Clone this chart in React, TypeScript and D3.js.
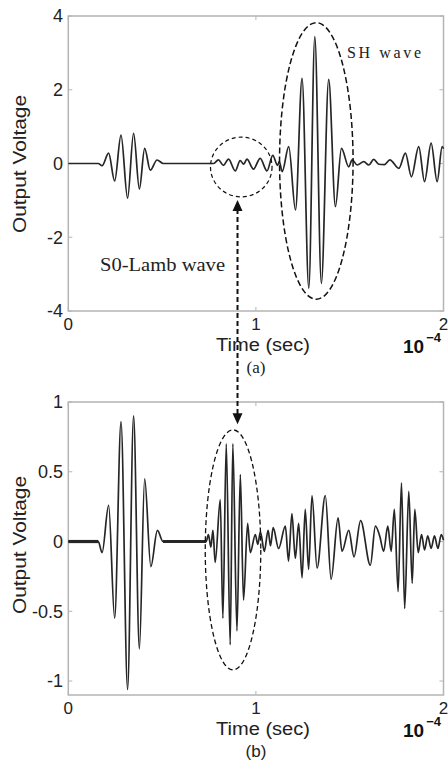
import React from "react";
import * as d3 from "d3";

const W = 448;
const H = 768;

// tick values
const xTicks = [0, 1, 2];
const topYTicks = [-4, -2, 0, 2, 4];
const bottomYTicks = [-1, -0.5, 0, 0.5, 1];

// (a) extrema, time in 1e-4 s
const topTimes = [
  0, 0.16, 0.18, 0.215, 0.247, 0.281, 0.316, 0.348, 0.379, 0.407, 0.437, 0.473, 0.507,
  0.775, 0.8, 0.827, 0.854, 0.89, 0.916, 0.935, 0.952, 0.987, 1.023, 1.059, 1.09, 1.115, 1.125,
  1.14, 1.175, 1.211, 1.246, 1.282, 1.314, 1.349, 1.388, 1.424, 1.456, 1.495,
  1.513, 1.54, 1.575, 1.602, 1.628, 1.655, 1.685, 1.714, 1.762, 1.797, 1.829, 1.868, 1.899,
  1.934, 1.966, 1.993, 2,
];
const topVolts = [
  0, 0, -0.06, 0.28, -0.475, 0.77, -0.94, 0.82, -0.69, 0.41, -0.18, 0.095, 0,
  0, 0.1, -0.05, 0.12, -0.2, 0.08, -0.02, 0.12, -0.15, 0.14, -0.2, 0.22, -0.05, 0.05,
  -0.22, 0.46, -1.26, 2.31, -3.38, 3.44, -3.25, 2.28, -1.17, 0.41, -0.09,
  0.1, -0.04, 0.05, -0.04, 0.11, -0.02, -0.03, 0.1, -0.13, 0.28, -0.36, 0.46, -0.49,
  0.55, -0.49, 0.46, 0.4,
];

// (b) extrema
const bottomTimes = [
  0, 0.16, 0.18, 0.215, 0.247, 0.281, 0.316, 0.348, 0.379, 0.407, 0.44, 0.475, 0.505,
  0.735, 0.747, 0.76, 0.771, 0.783, 0.81, 0.824, 0.842, 0.863, 0.877, 0.899, 0.917, 0.934,
  0.956, 0.97, 0.997, 1.01, 1.024, 1.045, 1.065, 1.078, 1.092, 1.121, 1.157, 1.174, 1.192,
  1.21, 1.228, 1.246, 1.263, 1.281, 1.299, 1.326, 1.37, 1.401, 1.438, 1.459, 1.495, 1.523,
  1.558, 1.61, 1.637, 1.66, 1.681, 1.703, 1.721, 1.738, 1.758, 1.776, 1.793, 1.815, 1.833,
  1.847, 1.865, 1.883, 1.899, 1.916, 1.934, 1.952, 1.97, 1.988, 2,
];
const bottomVolts = [
  0, 0, -0.08, 0.26, -0.55, 0.86, -1.06, 0.9, -0.77, 0.45, -0.18, 0.08, 0,
  0, 0.05, -0.04, 0.08, -0.15, 0.3, -0.55, 0.7, -0.74, 0.7, -0.64, 0.48, -0.42,
  0.13, -0.08, 0.05, -0.02, 0.07, -0.07, 0.08, -0.03, 0.1, -0.05, 0.11, -0.14, 0.2,
  -0.12, 0.13, -0.26, 0.23, -0.2, 0.33, -0.19, 0.33, -0.27, 0.17, -0.07, 0.08, -0.11,
  0.15, -0.17, 0.11, 0.04, -0.07, 0.11, -0.07, 0.23, -0.36, 0.42, -0.48, 0.36, -0.3,
  0.23, -0.08, 0.05, -0.06, 0.04, -0.05, 0.04, -0.05, 0.05, 0.01,
];

// quiet stretches in (b) that look thick because of noise
const quietStarts = [0, 0.505];
const quietEnds = [0.16, 0.735];

const x = d3.scaleLinear().domain([0, 2]).range([68.3, 443.5]);
const yTop = d3.scaleLinear().domain([-4, 4]).range([311, 16]);
const yBot = d3.scaleLinear().domain([-1.1, 1]).range([695, 402]);

const sans = "'Liberation Sans', Arial, sans-serif";
const serif = "'Liberation Serif', 'Times New Roman', serif";
const frame = "#b4b4b4";

function Panel({ y, yTicks, times, volts, caption, captionFont, labelMid }) {
  const [y0, y1] = y.range();
  const [x0, x1] = x.range();
  const line = d3
    .line<number>()
    .x((d, i) => x(times[i]))
    .y((d) => y(d))
    .curve(d3.curveMonotoneX);
  return (
    <g>
      <rect x={x0} y={y1} width={x1 - x0} height={y0 - y1} fill="white" stroke={frame} strokeWidth={1.5} />
      {xTicks.map((t) => (
        <g key={"x" + t}>
          <line x1={x(t)} x2={x(t)} y1={y0} y2={y0 - 4} stroke={frame} />
          <line x1={x(t)} x2={x(t)} y1={y1} y2={y1 + 4} stroke={frame} />
          <text x={x(t)} y={y0 + 19} textAnchor="middle" fontFamily={sans} fontSize={17} fill="#222">
            {t}
          </text>
        </g>
      ))}
      {yTicks.map((v) => (
        <g key={"y" + v}>
          <line x1={x0} x2={x0 + 4} y1={y(v)} y2={y(v)} stroke={frame} />
          <line x1={x1} x2={x1 - 4} y1={y(v)} y2={y(v)} stroke={frame} />
          <text x={63} y={y(v)} dy="0.35em" textAnchor="end" fontFamily={sans} fontSize={18} fill="#222">
            {String(v)}
          </text>
        </g>
      ))}
      <path d={line(volts) || ""} fill="none" stroke="#262626" strokeWidth={1.7} strokeLinejoin="round" />
      {caption === "(b)" &&
        quietStarts.map((s, i) => (
          <line key={i} x1={x(s)} x2={x(quietEnds[i])} y1={y(0)} y2={y(0)} stroke="#262626" strokeWidth={3.2} />
        ))}
      <text
        transform={`translate(26,${labelMid}) rotate(-90)`}
        textAnchor="middle"
        fontFamily={sans}
        fontSize={18}
        fill="#222"
        textLength={138}
        lengthAdjust="spacingAndGlyphs"
      >
        Output Voltage
      </text>
      <text x={263} y={y0 + 39.5} textAnchor="middle" fontFamily={sans} fontSize={18} fill="#222"
        textLength={94} lengthAdjust="spacingAndGlyphs">
        Time (sec)
      </text>
      <text x={403} y={y0 + 42} fontFamily={sans} fontSize={19} fontWeight="bold" fill="#111">
        10
        <tspan dx={2} dy={-11} fontSize={13}>
          −4
        </tspan>
      </text>
      <text x={256} y={y0 + 62} textAnchor="middle" fontFamily={captionFont} fontSize={17} fill="#222">
        {caption}
      </text>
    </g>
  );
}

export default function App() {
  // annotation shapes placed in data units
  const ell = (yS, t, v, rt, rv) => ({
    cx: x(t),
    cy: yS(v),
    rx: x(t + rt) - x(t),
    ry: yS(v - rv) - yS(v),
  });
  const s0 = ell(yTop, 0.922, -0.095, 0.164, 0.81);
  const sh = ell(yTop, 1.322, 0.07, 0.196, 3.75);
  const b0 = ell(yBot, 0.878, -0.06, 0.148, 0.86);
  const ax = x(0.902);
  const aTop = yTop(-0.99);
  const aBot = yBot(0.84);

  return (
    <svg width={W} height={H} style={{ position: "absolute", left: 0, top: 0, background: "white" }}>
      <Panel y={yTop} yTicks={topYTicks} times={topTimes} volts={topVolts} caption="(a)" captionFont={serif}
        labelMid={164} />
      <Panel y={yBot} yTicks={bottomYTicks} times={bottomTimes} volts={bottomVolts} caption="(b)" captionFont={sans}
        labelMid={545} />

      <ellipse {...s0} fill="none" stroke="#111" strokeWidth={1.2} strokeDasharray="4,3" />
      <ellipse {...sh} fill="none" stroke="#111" strokeWidth={1.5} strokeDasharray="6,3" />
      <ellipse {...b0} fill="none" stroke="#111" strokeWidth={1.3} strokeDasharray="5,3" />

      <line x1={ax} x2={ax} y1={aTop + 9} y2={aBot - 9} stroke="#111" strokeWidth={2} strokeDasharray="5,3" />
      <path d={`M${ax},${aTop} l-5,11 h10 z`} fill="#111" />
      <path d={`M${ax},${aBot} l-5,-11 h10 z`} fill="#111" />

      <text x={347} y={58} fontFamily={serif} fontSize={16} fill="#222" textLength={74} lengthAdjust="spacing">
        SH wave
      </text>
      <text x={100} y={271} fontFamily={serif} fontSize={18} fill="#222" textLength={125}
        lengthAdjust="spacingAndGlyphs">
        S0-Lamb wave
      </text>
    </svg>
  );
}
